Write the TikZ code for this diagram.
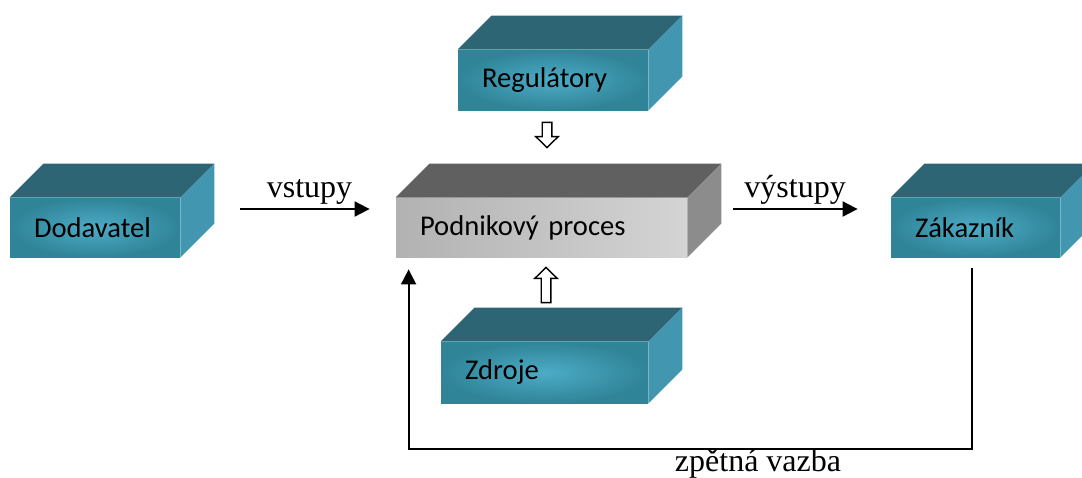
\documentclass[tikz,border=0pt]{standalone}
\usepackage{fontspec}
\usepackage{tikz}
\usetikzlibrary{arrows.meta, calc}
\newfontfamily\boxfont{Carlito}
\newfontfamily\labfont{Liberation Serif}
\definecolor{tfront} {RGB}{ 48,132,152}
\definecolor{tlight} {RGB}{ 76,172,198}
\definecolor{ttop}   {RGB}{ 46,101,117}
\definecolor{tside}  {RGB}{ 66,150,175}
\definecolor{gtop}   {RGB}{ 96, 96, 96}
\definecolor{gside}  {RGB}{140,140,140}
\definecolor{gdark}  {RGB}{178,178,178}
\definecolor{glight} {RGB}{212,212,212}
% top and right faces of a box: node, top colour, side colour
\newcommand{\boxsides}[3]{%
  \fill[#2] (#1.north west) -- ++(17pt,17pt)
        -- ($(#1.north east)+(17pt,17pt)$) -- (#1.north east) -- cycle;
  \fill[#3] (#1.north east) -- ++(17pt,17pt)
        -- ($(#1.south east)+(17pt,17pt)$) -- (#1.south east) -- cycle;}
% hollow block arrow from #1 to #2
\newcommand{\hollowarr}[2]{%
  \coordinate (ha) at ($(#2)!5.5pt!(#1)$);
  \draw[Hol] ($(#1)!2.4pt!90:(#2)$) -- ($(ha)!2.4pt!90:(#2)$)
        -- ($(ha)!5.6pt!90:(#2)$) -- (#2) -- ($(ha)!5.6pt!-90:(#2)$)
        -- ($(ha)!2.4pt!-90:(#2)$) -- ($(#1)!2.4pt!-90:(#2)$) -- cycle;}
\tikzset{
  % teal block
  TBox/.style={rectangle,inner color=tlight,outer color=tfront,
               minimum height=29.5pt,inner xsep=12pt,align=left,
               font=\boxfont\fontsize{14.3pt}{16pt}\selectfont},
  % grey process block
  GBox/.style={TBox,left color=gdark,right color=glight},
  % serif labels
  Lab/.style={font=\labfont\fontsize{16pt}{18pt}\selectfont,inner sep=2pt},
  % arrows
  Arr/.style={-{Triangle[length=7.5pt,width=7.5pt]},line width=1pt},
  Hol/.style={draw=black,fill=white,line width=0.7pt,line join=miter},
}
\begin{document}
\begin{tikzpicture}[x=0.5pt,y=-0.5pt]
  \useasboundingbox (0,0) rectangle (1082,477);
  \node[TBox,text width=61pt]   at (95,227.5)  (dod) {Dodavatel};
  \boxsides{dod}{ttop}{tside}
  \node[GBox,text width=121.5pt] at (541.5,227.5) (proc) {Podnikový proces};
  \boxsides{proc}{gtop}{gside}
  \node[TBox,text width=60.5pt] at (975.5,227.5) (zak) {Zákazník};
  \boxsides{zak}{ttop}{tside}
  \node[TBox,text width=71pt,minimum height=30pt] at (553,80) (reg) {Regulátory};
  \boxsides{reg}{ttop}{tside}
  \node[TBox,text width=79.5pt,minimum height=30.5pt] at (544.5,372.5) (zdr) {Zdroje};
  \boxsides{zdr}{ttop}{tside}
  % inputs and outputs
  \draw[Arr,shorten <=30pt,shorten >=13pt]
       ([yshift=9.25pt]dod.east) -- ([yshift=9.25pt]proc.west)
       node[Lab,pos=0.6,above] {vstupy};
  \draw[Arr,shorten <=23pt,shorten >=16.5pt]
       ([yshift=9.25pt]proc.east) -- ([yshift=9.25pt]zak.west)
       node[Lab,pos=0.53,above] {výstupy};
  % regulators and resources
  \coordinate (rs) at ($(reg.south)+(-6,12)$);
  \coordinate (re) at ($(reg.south |- proc.north)+(-6,-50)$);
  \hollowarr{rs}{re}
  \coordinate (zs) at ($(zdr.north)+(1.5,-39)$);
  \coordinate (ze) at ($(zdr.north |- proc.south)+(1.5,10)$);
  \hollowarr{zs}{ze}
  % feedback
  \coordinate (fb) at (758,449);
  \draw[Arr,line width=0.9pt,shorten <=5.5pt,shorten >=6pt]
       ([xshift=-1.75pt]zak.south) |- (fb) -| ([xshift=6.5pt]proc.south west);
  \node[Lab,below,inner sep=0pt] at (fb) (fbl) {zpětná vazba};
\end{tikzpicture}
\end{document}
